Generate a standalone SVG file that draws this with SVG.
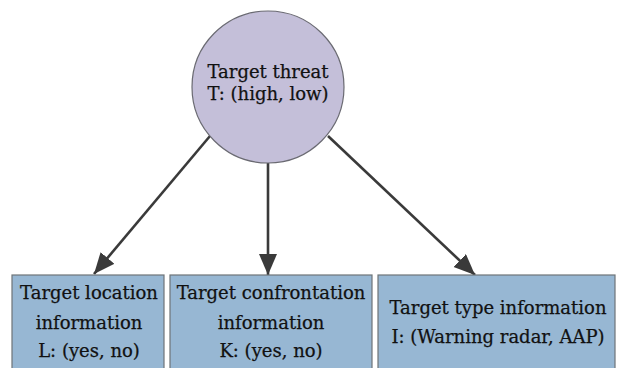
<svg xmlns="http://www.w3.org/2000/svg" width="618" height="368" viewBox="0 0 618 368">
<style>
.box{fill:#97b7d3;stroke:#6e7478;stroke-width:1.2}
.circ{fill:#c4bfd9;stroke:#6a6a72;stroke-width:1.2}
.t{font-family:"DejaVu Serif","Liberation Serif",serif;font-size:18px;fill:#111;text-anchor:middle;stroke:#111;stroke-width:0.25}
.edge{stroke:#3a3a3a;stroke-width:2.6;fill:none;marker-end:url(#ah)}
</style>
<defs>
<marker id="ah" markerUnits="userSpaceOnUse" markerWidth="24" markerHeight="20" refX="21" refY="9" orient="auto">
<path d="M0,0 L21,9 L0,18 Z" fill="#3a3a3a"/>
</marker>
</defs>
<rect width="618" height="368" fill="#fff"/>
<g id="edges">
<line class="edge" x1="210" y1="136" x2="94" y2="274"/>
<line class="edge" x1="268" y1="163" x2="268" y2="275"/>
<line class="edge" x1="328" y1="136" x2="475" y2="275"/>
</g>
<g id="nodeT">
<circle class="circ" cx="268" cy="87" r="76"/>
<text class="t" x="268" y="78">Target threat</text>
<text class="t" x="268" y="100">T: (high, low)</text>
</g>
<g id="nodeL">
<rect class="box" x="12" y="275" width="152" height="100"/>
<text class="t" x="89" y="299">Target location</text>
<text class="t" x="89" y="329">information</text>
<text class="t" x="89" y="357">L: (yes, no)</text>
</g>
<g id="nodeK">
<rect class="box" x="170" y="275" width="202" height="100"/>
<text class="t" x="271" y="299">Target confrontation</text>
<text class="t" x="271" y="329">information</text>
<text class="t" x="271" y="357">K: (yes, no)</text>
</g>
<g id="nodeI">
<rect class="box" x="378" y="275" width="237" height="100"/>
<text class="t" x="498" y="314">Target type information</text>
<text class="t" x="498" y="343">I: (Warning radar, AAP)</text>
</g>
</svg>
